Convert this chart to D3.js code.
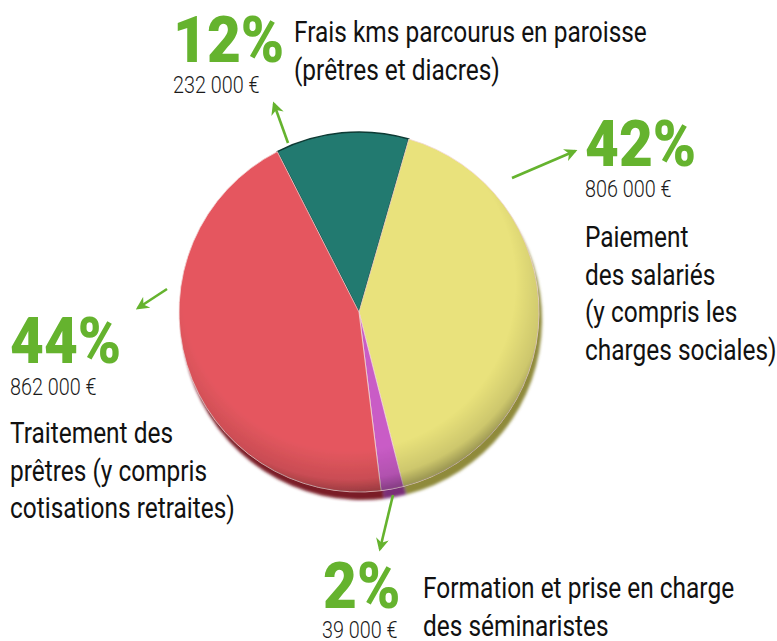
<!DOCTYPE html>
<html><head><meta charset="utf-8">
<script src="https://cdn.jsdelivr.net/npm/d3@7"></script>
<style>html,body{margin:0;padding:0;background:#fff;}svg{display:block;}</style>
</head><body>
<script>
// ---- data ----
const categories = ["Frais kms", "Paiement des salariés", "Formation séminaristes", "Traitement des prêtres"];
const amounts = [232000, 806000, 39000, 862000];
const percentLabels = ["12%", "42%", "2%", "44%"];
const amountLabels = ["232 000 €", "806 000 €", "39 000 €", "862 000 €"];
const descLines = [
  ["Frais kms parcourus en paroisse", "(prêtres et diacres)"],
  ["Paiement", "des salariés", "(y compris les", "charges sociales)"],
  ["Formation et prise en charge", "des séminaristes"],
  ["Traitement des", "prêtres (y compris", "cotisations retraites)"]
];
const colors = ["#227a70", "#e9e27b", "#c95cc6", "#e5575f"];
const rimColors = ["#12463f", "#8f8a3a", "#7a2f78", "#7a1f28"];

// ---- layout (annotation placement) ----
const W = 777, H = 641;
const cx = 359, cy = 312, R = 180;
const layout = [
  {px:173, py:62, ax:173, ay:93, dx:294, dy:42, arrow:[[288,143],[274,104]]},
  {px:585, py:166, ax:585, ay:197, dx:585, dy:247, arrow:[[512,178],[575,151]]},
  {px:323, py:608, ax:322, ay:638, dx:423, dy:598, arrow:[[393,495],[380,549]]},
  {px:10, py:363, ax:10, ay:395, dx:10, dy:443, arrow:[[167,289],[138,308]]}
];
const green = "#65b32e";
const lineH = 37.5;

const svg = d3.select("body").append("svg").attr("width", W).attr("height", H);
const defs = svg.append("defs");
defs.append("marker").attr("id","ah").attr("viewBox","0 0 10 10").attr("refX",8).attr("refY",5)
  .attr("markerWidth",5).attr("markerHeight",5).attr("orient","auto-start-reverse")
  .append("path").attr("d","M0,0 L10,5 L0,10 L3,5 Z").attr("fill",green);
const rg = defs.append("radialGradient").attr("id","shade").attr("cx","0.47").attr("cy","0.42").attr("r","0.58");
rg.append("stop").attr("offset","0.8").attr("stop-color","#000").attr("stop-opacity",0);
rg.append("stop").attr("offset","0.94").attr("stop-color","#000").attr("stop-opacity",0.12);
rg.append("stop").attr("offset","1").attr("stop-color","#000").attr("stop-opacity",0.32);
defs.append("filter").attr("id","blur").append("feGaussianBlur").attr("stdDeviation",1.8);
defs.append("filter").attr("id","blur2").append("feGaussianBlur").attr("stdDeviation",0.6);

const deg = Math.PI/180;
const pie = d3.pie().sort(null).value(d => d).startAngle(-27*deg).endAngle(333*deg);
const arcs = pie(amounts);
const arc = d3.arc().innerRadius(0).outerRadius(R);

// rim (3D edge)
const rimG = svg.append("g").attr("transform", `translate(${cx+3},${cy+8})`).attr("filter","url(#blur)");
rimG.selectAll("path").data(arcs).join("path").attr("d", arc).attr("fill", (d,i) => rimColors[i]);
// top face
const faceG = svg.append("g").attr("transform", `translate(${cx},${cy})`).attr("filter","url(#blur2)");
faceG.selectAll("path").data(arcs).join("path").attr("d", arc).attr("fill", (d,i) => colors[i])
  .attr("stroke", (d,i) => i===0 ? "#0e3a34" : "#f3d8d8").attr("stroke-width", (d,i)=> i===0 ? 1.5 : 0.8);
faceG.append("circle").attr("r", R).attr("fill","url(#shade)");

// annotations
const ann = svg.append("g");
function addText(x, y, txt, size, weight, color, k) {
  const t = ann.append("text").attr("x", 0).attr("y", 0)
    .attr("font-family", "Roboto, 'Liberation Sans', sans-serif")
    .attr("font-size", size).attr("font-weight", weight).attr("fill", color).text(txt);
  t.attr("transform", `translate(${x},${y}) scale(${k},1)`);
  return t;
}
layout.forEach((L, i) => {
  addText(L.px, L.py, percentLabels[i], 65, 900, green, 0.9);
  addText(L.ax, L.ay, amountLabels[i], 23, 300, "#1a1a1a", 0.86);
  descLines[i].forEach((ln, j) => addText(L.dx, L.dy + j*lineH, ln, 30, 400, "#111", 0.815));
  ann.append("path").attr("d", d3.line()(L.arrow)).attr("stroke", green).attr("stroke-width", 2.6)
    .attr("fill","none").attr("marker-end","url(#ah)");
});
</script>
</body></html>
